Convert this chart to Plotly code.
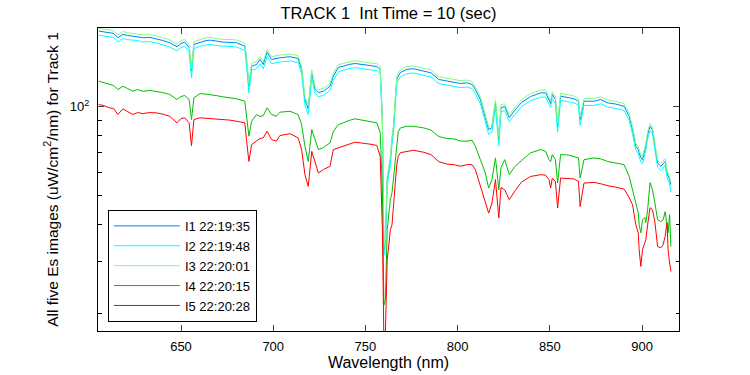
import plotly.graph_objects as go
import math

wavelength = [605.4, 608.0, 611.2, 613.5, 615.8, 618.5, 621.0, 623.9, 626.5, 629.3,
              633.0, 636.6, 640.0, 643.9, 647.8, 650.0, 652.0, 654.4, 655.7, 657.0,
              660.2, 663.0, 665.6, 669.0, 672.8, 676.5, 680.1, 684.6, 685.5, 686.8,
              688.3, 691.0, 692.8, 694.6, 696.7, 699.1, 701.7, 703.6, 709.1, 713.5,
              715.4, 717.2, 719.0, 720.9, 722.7, 724.5, 727.2, 730.8, 732.6, 735.3,
              738.0, 741.0, 744.3, 748.0, 750.7, 754.3, 756.2, 758.0, 759.2, 760.0,
              760.8, 761.8, 762.7, 763.5, 764.4, 765.3, 766.2, 767.0, 767.8, 769.0,
              772.4, 776.1, 781.6, 785.5, 789.7, 794.3, 797.9, 801.5, 805.1, 807.8,
              809.6, 812.3, 815.0, 816.8, 818.6, 820.5, 822.3, 823.5, 825.5, 828.0,
              830.9, 834.6, 839.5, 845.0, 847.7, 849.5, 850.4, 851.3, 853.0, 854.2,
              855.8, 860.0, 863.1, 865.5, 866.4, 868.5, 873.9, 877.6, 881.2, 885.5,
              890.2, 893.0, 894.8, 896.6, 897.9, 898.4, 899.3, 900.2, 901.5, 902.0,
              903.0, 904.3, 905.6, 906.9, 908.4, 910.2, 911.4, 912.5, 913.5, 914.1,
              914.9, 915.6]

i1 = [179.7, 178.5, 177.4, 176.4, 170.6, 175.1, 173.7, 172.8, 172.4, 170.6,
      171.1, 169.3, 167.1, 164.1, 159.1, 163.2, 164.9, 158.2, 131.6, 162.0,
      164.9, 166.5, 167.5, 165.8, 164.9, 164.5, 164.1, 159.8, 144.1, 117.1,
      136.8, 138.6, 144.1, 138.6, 152.5, 144.1, 145.2, 146.0, 147.2, 145.2,
      133.4, 105.6, 98.2, 130.0, 114.1, 111.5, 112.6, 117.1, 126.6, 135.4,
      136.8, 138.6, 139.7, 138.6, 137.5, 136.8, 136.5, 133.4, 90.4, 32.9,
      35.5, 56.7, 61.3, 66.2, 77.4, 85.8, 105.6, 123.4, 126.6, 130.3,
      133.4, 134.1, 131.6, 130.0, 123.4, 121.8, 120.2, 119.6, 120.2, 118.7,
      114.1, 105.6, 91.8, 83.6, 84.9, 102.9, 77.4, 99.2, 100.0, 91.8,
      96.9, 103.2, 108.1, 111.2, 111.2, 105.6, 102.4, 109.8, 105.6, 85.8,
      108.3, 107.2, 106.2, 104.2, 90.4, 104.2, 104.2, 105.6, 102.9, 102.0,
      100.2, 92.7, 83.6, 73.4, 71.6, 69.8, 67.3, 66.2, 70.5, 73.4,
      80.4, 85.8, 83.6, 73.4, 64.5, 62.9, 64.2, 65.3, 59.7, 58.5,
      56.7, 54.5]

i2 = [174.0, 172.8, 171.7, 170.8, 165.1, 169.5, 168.1, 167.3, 166.9, 165.1,
      165.6, 163.9, 161.8, 158.8, 154.0, 158.0, 159.6, 153.1, 125.0, 156.8,
      159.6, 161.2, 162.1, 160.5, 159.6, 159.2, 158.8, 154.7, 138.0, 111.0,
      132.4, 134.2, 139.5, 134.2, 147.6, 139.5, 140.6, 141.3, 142.5, 140.6,
      129.1, 101.0, 94.0, 125.8, 110.5, 107.9, 109.0, 113.4, 122.5, 131.1,
      132.4, 134.2, 135.2, 134.2, 133.1, 132.4, 132.1, 129.1, 86.0, 31.5,
      34.0, 54.0, 59.0, 63.5, 74.5, 83.0, 101.5, 119.5, 122.5, 126.1,
      129.1, 129.8, 127.4, 125.8, 119.5, 117.9, 116.4, 115.8, 116.4, 114.9,
      110.5, 102.2, 88.5, 80.5, 82.0, 99.6, 73.5, 96.0, 96.8, 88.9,
      93.8, 99.9, 104.6, 107.6, 107.6, 102.2, 99.1, 106.3, 102.2, 82.0,
      104.8, 103.8, 102.8, 100.9, 86.5, 100.9, 100.9, 102.2, 99.6, 98.7,
      97.0, 89.7, 80.9, 71.1, 69.3, 67.6, 65.1, 64.1, 68.2, 71.1,
      77.8, 83.1, 80.9, 71.1, 62.4, 60.9, 62.1, 63.2, 57.8, 56.6,
      54.9, 51.5]

i3 = [183.6, 182.4, 181.3, 180.3, 174.4, 179.0, 177.5, 176.6, 176.2, 174.4,
      174.9, 173.0, 170.8, 167.7, 162.6, 166.8, 168.5, 161.7, 134.5, 165.6,
      168.5, 170.2, 171.2, 169.4, 168.5, 168.1, 167.7, 163.3, 147.3, 119.7,
      139.8, 141.6, 147.3, 141.6, 155.9, 147.3, 148.4, 149.2, 150.4, 148.4,
      136.3, 107.9, 100.4, 132.9, 116.6, 114.0, 115.1, 119.7, 129.4, 138.4,
      139.8, 141.6, 142.8, 141.6, 140.5, 139.8, 139.5, 136.3, 92.4, 33.6,
      36.3, 57.9, 62.6, 67.7, 79.1, 87.7, 107.9, 126.1, 129.4, 133.2,
      136.3, 137.1, 134.5, 132.9, 126.1, 124.5, 122.8, 122.2, 122.8, 121.3,
      116.6, 107.9, 93.8, 85.4, 86.8, 105.2, 79.1, 101.4, 102.2, 93.8,
      99.0, 105.5, 110.5, 113.6, 113.6, 107.9, 104.7, 112.2, 107.9, 87.7,
      110.7, 109.6, 108.5, 106.5, 92.4, 106.5, 106.5, 107.9, 105.2, 104.2,
      102.4, 94.7, 85.4, 75.0, 73.2, 71.3, 68.8, 67.7, 72.1, 75.0,
      82.2, 87.7, 85.4, 75.0, 65.9, 64.3, 65.6, 66.7, 61.0, 59.8,
      57.9, 55.7]

i4 = [121.8, 120.5, 118.7, 117.7, 114.1, 117.1, 115.0, 112.6, 114.1, 112.6,
      113.3, 112.6, 111.5, 109.8, 105.6, 108.1, 108.9, 105.6, 90.4, 107.0,
      110.6, 110.2, 109.8, 108.9, 107.8, 107.2, 106.2, 104.2, 94.0, 79.4,
      89.2, 94.0, 92.5, 93.2, 99.0, 94.0, 92.7, 95.7, 96.4, 94.0,
      86.9, 73.4, 65.3, 83.6, 77.4, 71.6, 72.7, 75.4, 82.5, 86.9,
      88.1, 89.7, 90.9, 90.0, 89.2, 88.6, 88.1, 81.7, 52.4, 21.4,
      22.3, 38.4, 43.2, 48.5, 51.2, 58.9, 66.2, 77.4, 82.3, 84.7,
      85.8, 85.8, 84.7, 83.3, 79.2, 78.0, 77.8, 76.5, 76.4, 77.0,
      73.4, 66.2, 59.7, 53.1, 56.7, 67.1, 52.4, 62.2, 66.2, 58.9,
      62.7, 65.7, 69.8, 71.6, 70.6, 66.2, 65.2, 68.9, 66.2, 55.2,
      68.9, 68.6, 67.8, 67.1, 57.4, 66.2, 67.1, 66.6, 65.3, 64.7,
      63.7, 58.1, 52.4, 46.7, 43.8, 39.9, 37.5, 41.5, 42.2, 40.6,
      44.9, 55.4, 52.4, 47.4, 41.5, 40.9, 41.5, 44.2, 39.9, 37.5,
      43.2, 33.7]

i5 = [101.6, 100.8, 99.0, 98.5, 94.0, 98.2, 96.2, 94.0, 95.4, 94.7,
      95.4, 95.2, 94.3, 92.7, 88.1, 91.1, 91.6, 88.1, 73.8, 90.4,
      91.6, 91.4, 90.9, 90.8, 90.4, 90.0, 89.2, 88.1, 77.4, 65.3,
      74.4, 76.4, 78.0, 78.4, 82.5, 77.4, 76.4, 79.8, 81.0, 78.4,
      71.6, 58.9, 53.8, 70.6, 64.5, 59.7, 61.3, 62.9, 71.6, 72.5,
      73.6, 74.4, 75.8, 75.3, 75.0, 74.4, 73.8, 67.9, 38.4, 16.0,
      17.2, 30.4, 34.2, 38.4, 39.9, 48.5, 55.4, 63.7, 67.9, 69.9,
      70.6, 71.2, 70.1, 68.9, 65.2, 63.9, 63.7, 62.9, 63.7, 63.7,
      61.3, 53.8, 47.3, 43.7, 47.3, 56.7, 42.1, 53.3, 52.4, 48.5,
      51.8, 55.6, 58.1, 58.9, 58.7, 56.7, 53.1, 57.4, 55.8, 45.5,
      57.4, 57.1, 57.0, 55.9, 46.0, 55.2, 55.5, 54.9, 54.1, 53.5,
      52.7, 49.3, 46.7, 39.9, 37.5, 32.9, 28.9, 32.9, 34.7, 35.5,
      39.9, 45.6, 44.9, 40.9, 33.7, 33.4, 34.2, 36.5, 40.6, 32.9,
      29.7, 27.8]

series_names = ["I1 22:19:35", "I2 22:19:48", "I3 22:20:01", "I4 22:20:15", "I5 22:20:28"]
series_colors = ["#0080ff", "#00ffff", "#80ff80", "#00c000", "#ff0000"]

y_major_vals = [100]
y_major_text = ["10<sup>2</sup>"]
y_minor_vals = [20, 30, 40, 50, 60, 70, 80, 90]
x_tick_vals = [650, 700, 750, 800, 850, 900]

FONT = "Liberation Sans, Arial, Helvetica, sans-serif"

fig = go.Figure()
for name, color, ys in zip(series_names, series_colors, [i1, i2, i3, i4, i5]):
    fig.add_trace(go.Scatter(x=wavelength, y=ys, mode="lines", name=name,
                             line=dict(color=color, width=1)))

fig.update_layout(
    width=750, height=375,
    paper_bgcolor="white", plot_bgcolor="white",
    margin=dict(l=98, r=71, t=28, b=44, autoexpand=False),
    font=dict(family=FONT, size=13, color="black"),
    title=dict(text="TRACK 1  Int Time = 10 (sec)", x=(98 + 679) / 2 / 750, xanchor="center",
               xref="container",
               y=1 - 13 / 375, yanchor="middle", font=dict(size=16.5), automargin=False),
    showlegend=True,
    legend=dict(x=0.017, xanchor="left", y=0.03, yanchor="bottom",
                bordercolor="black", borderwidth=1, bgcolor="white",
                font=dict(size=13), itemwidth=66),
)

fig.update_xaxes(
    range=[605, 920], tickvals=x_tick_vals, ticks="inside", ticklen=6,
    showline=True, linecolor="black", linewidth=1, mirror="ticks",
    showgrid=False, zeroline=False, automargin=False,
    ticklabelstandoff=3,
    title=dict(text="Wavelength (nm)", standoff=4, font=dict(size=16)),
    tickfont=dict(size=13),
)
fig.update_yaxes(
    type="log", range=[math.log10(17.5), math.log10(184)],
    tickvals=y_major_vals, ticktext=y_major_text, ticks="inside", ticklen=6,
    minor=dict(tickvals=y_minor_vals, ticks="inside", ticklen=3.5, tickcolor="black"),
    showline=True, linecolor="black", linewidth=1, mirror="ticks",
    showgrid=False, zeroline=False, automargin=False,
    ticklabelstandoff=5,
    title=dict(text="All five Es images (uW/cm<sup>2</sup>/nm) for Track 1", standoff=7,
               font=dict(size=15.5)),
    tickfont=dict(size=13),
)

fig.write_html("out.html",
               config={"displayModeBar": False},
               post_script="document.body.style.margin='0';document.body.style.overflow='hidden';")
